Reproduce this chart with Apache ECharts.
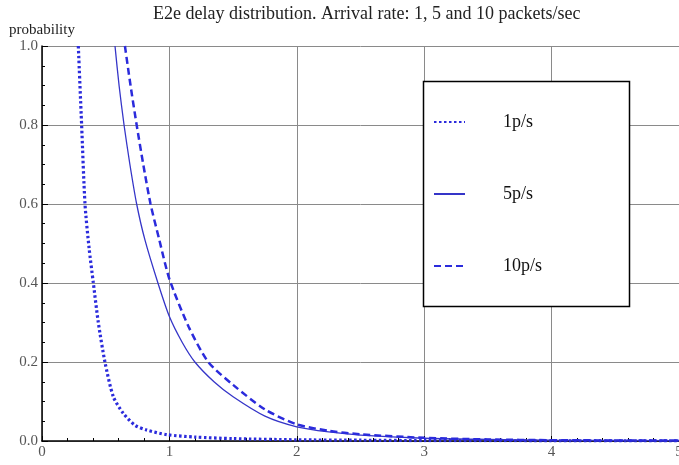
<!DOCTYPE html>
<html>
<head>
<meta charset="utf-8">
<script src="https://cdn.jsdelivr.net/npm/echarts@6/dist/echarts.min.js"></script>
<style>
html,body{margin:0;padding:0;background:#fff;overflow:hidden;}
#chart{width:679px;height:465px;}
</style>
</head>
<body>
<div id="chart"></div>
<script>
var titleText = 'E2e delay distribution. Arrival rate: 1, 5 and 10 packets/sec';
var seriesNames = ['1p/s', '5p/s', '10p/s'];
var xTicks = [0, 1, 2, 3, 4, 5];
var yTicks = [0.0, 0.2, 0.4, 0.6, 0.8, 1.0];

var rate1X = [0.285, 0.311, 0.3375, 0.369, 0.403, 0.442, 0.494, 0.56, 0.638, 0.73, 0.82, 0.98, 1.2, 1.5, 2.0, 2.5, 3.0, 4.0, 5.0];
var rate1Y = [1.0, 0.8, 0.6, 0.49, 0.4, 0.3, 0.2, 0.112, 0.07, 0.04, 0.028, 0.016, 0.01, 0.006, 0.003, 0.002, 0.001, 0.0005, 0.0003];

var rate5X = [0.573, 0.605, 0.644, 0.69, 0.743, 0.808, 0.91, 1.0, 1.1, 1.2, 1.35, 1.5, 1.75, 2.0, 2.25, 2.5, 3.0, 3.5, 4.0, 5.0];
var rate5Y = [1.0, 0.9, 0.8, 0.7, 0.6, 0.509, 0.4, 0.315, 0.25, 0.2, 0.15, 0.112, 0.063, 0.036, 0.023, 0.015, 0.007, 0.004, 0.002, 0.001];

var rate10X = [0.651, 0.695, 0.743, 0.795, 0.852, 0.921, 1.0, 1.15, 1.305, 1.5, 1.75, 2.0, 2.25, 2.5, 3.0, 3.5, 4.0, 5.0];
var rate10Y = [1.0, 0.9, 0.8, 0.7, 0.6, 0.509, 0.41, 0.29, 0.2, 0.142, 0.08, 0.042, 0.026, 0.017, 0.008, 0.004, 0.002, 0.001];

function pairs(xs, ys) { return xs.map(function (x, i) { return [x, ys[i]]; }); }

var lineColor = '#2b2bdc';
var serifFont = '"Liberation Serif", "DejaVu Serif", serif';

var chart = echarts.init(document.getElementById('chart'), null, {renderer: 'canvas'});
chart.setOption({
  animation: false,
  backgroundColor: '#fff',
  title: {
    text: titleText,
    left: 148,
    top: 0,
    textStyle: {fontFamily: serifFont, fontSize: 18, fontWeight: 'normal', color: '#222'}
  },
  grid: {left: 42, right: 0, top: 46, bottom: 24, containLabel: false, outerBoundsMode: 'none'},
  legend: {
    orient: 'vertical',
    left: 428,
    top: 108,
    z: 10,
    itemWidth: 31,
    itemHeight: 14,
    itemGap: 54,
    data: seriesNames,
    itemStyle: {opacity: 0},
    textStyle: {fontFamily: serifFont, fontSize: 18, color: '#111', padding: [0, 0, 0, 33]}
  },
  graphic: [{
    type: 'rect',
    shape: {x: 423.5, y: 81.5, width: 206, height: 225},
    style: {fill: '#fff', stroke: '#000', lineWidth: 1.5},
    z: 5
  }],
  xAxis: {
    type: 'value',
    min: xTicks[0],
    max: xTicks[xTicks.length - 1],
    interval: 1,
    axisLine: {show: true, onZero: false, lineStyle: {color: '#000', width: 1.5}},
    axisTick: {show: true, inside: true, length: 5, lineStyle: {color: '#000'}},
    minorTick: {show: true, splitNumber: 5, length: 3, lineStyle: {color: '#000'}},
    splitLine: {show: true, lineStyle: {color: '#8a8a8a', width: 1}},
    axisLabel: {fontFamily: serifFont, fontSize: 15, color: '#555', margin: 4,
      formatter: function (v) { return String(v); }}
  },
  yAxis: {
    type: 'value',
    min: yTicks[0],
    max: yTicks[yTicks.length - 1],
    interval: 0.2,
    name: 'probability',
    nameLocation: 'end',
    nameGap: 8,
    nameTextStyle: {fontFamily: serifFont, fontSize: 15, color: '#222', align: 'center'},
    axisLine: {show: true, onZero: false, lineStyle: {color: '#000', width: 1.5}},
    axisTick: {show: true, inside: true, length: 6, lineStyle: {color: '#000'}},
    minorTick: {show: true, splitNumber: 4, length: 3, lineStyle: {color: '#000'}},
    splitLine: {show: true, lineStyle: {color: '#8a8a8a', width: 1}},
    axisLabel: {fontFamily: serifFont, fontSize: 15, color: '#555', margin: 4,
      formatter: function (v) { return v.toFixed(1); }}
  },
  series: [
    {
      name: seriesNames[0], type: 'line', data: pairs(rate1X, rate1Y),
      symbol: 'none', smooth: 0.25, clip: true,
      lineStyle: {color: lineColor, width: 3.2, type: [2.5, 2.5]},
      itemStyle: {color: lineColor}, z: 3
    },
    {
      name: seriesNames[1], type: 'line', data: pairs(rate5X, rate5Y),
      symbol: 'none', smooth: 0.25, clip: true,
      lineStyle: {color: '#3535c8', width: 1.3, type: 'solid'},
      itemStyle: {color: '#3535c8'}, z: 3
    },
    {
      name: seriesNames[2], type: 'line', data: pairs(rate10X, rate10Y),
      symbol: 'none', smooth: 0.25, clip: true,
      lineStyle: {color: lineColor, width: 2.5, type: [7, 4]},
      itemStyle: {color: lineColor}, z: 3
    }
  ]
});
</script>
</body>
</html>
